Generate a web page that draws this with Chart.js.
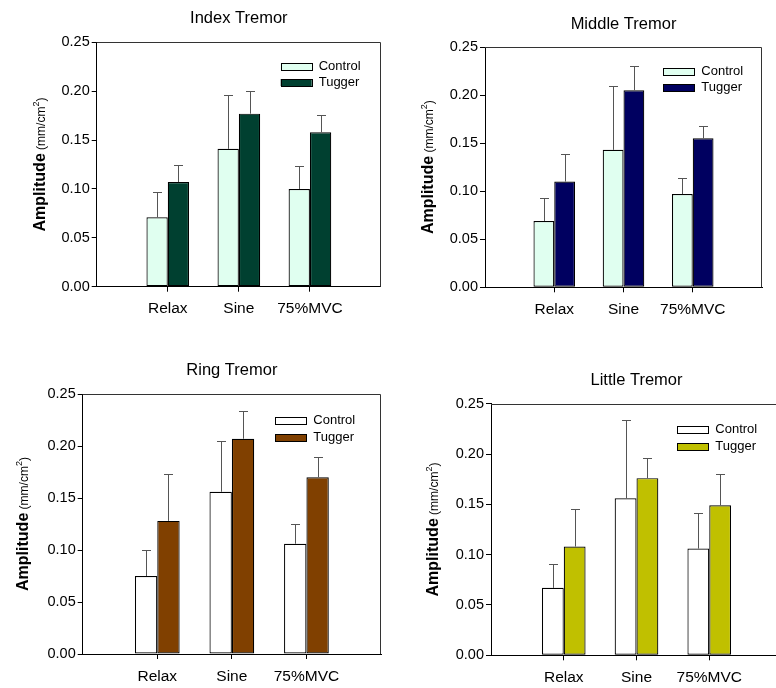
<!DOCTYPE html>
<html><head><meta charset="utf-8">
<script src="https://cdn.jsdelivr.net/npm/chart.js@4.4.1/dist/chart.umd.min.js"></script>
<style>
html,body{margin:0;padding:0;background:#fff;overflow:hidden;width:776px;height:688px;position:relative;}
canvas{position:absolute;left:0;top:0;}
</style></head><body>
<canvas id="c0" width="800" height="688"></canvas>
<canvas id="c1" width="800" height="688"></canvas>
<canvas id="c2" width="800" height="688"></canvas>
<canvas id="c3" width="800" height="688"></canvas>
<script>
// ---- data ----
const categories = ['Relax', 'Sine', '75%MVC'];
const seriesNames = ['Control', 'Tugger'];
const panelTitles = ['Index Tremor', 'Middle Tremor', 'Ring Tremor', 'Little Tremor'];
const yTickValues = [0, 0.05, 0.10, 0.15, 0.20, 0.25];

const indexControl = [0.071, 0.141, 0.100];
const indexControlErr = [0.026, 0.055, 0.023];
const indexTugger = [0.107, 0.177, 0.158];
const indexTuggerErr = [0.018, 0.023, 0.018];

const middleControl = [0.069, 0.143, 0.097];
const middleControlErr = [0.024, 0.066, 0.017];
const middleTugger = [0.110, 0.205, 0.155];
const middleTuggerErr = [0.029, 0.025, 0.013];

const ringControl = [0.075, 0.156, 0.106];
const ringControlErr = [0.025, 0.049, 0.019];
const ringTugger = [0.128, 0.207, 0.170];
const ringTuggerErr = [0.045, 0.027, 0.019];

const littleControl = [0.067, 0.156, 0.106];
const littleControlErr = [0.024, 0.078, 0.035];
const littleTugger = [0.108, 0.176, 0.149];
const littleTuggerErr = [0.037, 0.020, 0.031];

// ---- styles / layout ----
const FONT = '"Liberation Sans", Arial, Helvetica, sans-serif';
const panels = [
  {title: panelTitles[0], control: indexControl, cErr: indexControlErr, tugger: indexTugger, tErr: indexTuggerErr,
   cColor: '#e0fff0', tColor: '#004030',
   box: {left: 96.7, right: 381, top: 42.3, bottom: 286.7}, titleDy: 24, yTitleDx: 51.7, legDx: 100.3, legRow1: 24.4, legGap: 16},
  {title: panelTitles[1], control: middleControl, cErr: middleControlErr, tugger: middleTugger, tErr: middleTuggerErr,
   cColor: '#e0fff0', tColor: '#000060',
   box: {left: 485, right: 762, top: 47, bottom: 287.3}, titleDy: 22.7, yTitleDx: 51.7, legDx: 98.7, legRow1: 24, legGap: 16.3},
  {title: panelTitles[2], control: ringControl, cErr: ringControlErr, tugger: ringTugger, tErr: ringTuggerErr,
   cColor: '#ffffff', tColor: '#804000',
   box: {left: 82.7, right: 381, top: 394, bottom: 654}, titleDy: 23.3, yTitleDx: 54.7, legDx: 105.7, legRow1: 26, legGap: 17.3},
  {title: panelTitles[3], control: littleControl, cErr: littleControlErr, tugger: littleTugger, tErr: littleTuggerErr,
   cColor: '#ffffff', tColor: '#c0c000',
   box: {left: 491, right: 782, top: 403.7, bottom: 655.3}, titleDy: 23.7, yTitleDx: 52.7, legDx: 104.7, legRow1: 25.3, legGap: 17.3}
];

const CANVAS_W = 800, CANVAS_H = 688, Y_AXIS_W = 50, X_AXIS_H = 30;

const pad = arr => [null, ...arr, null];

const decor = {
  id: 'decor',
  afterDraw(chart, args, o) {
    const ctx = chart.ctx, a = chart.chartArea, ys = chart.scales.y;
    ctx.save();
    // frame top + right
    ctx.strokeStyle = '#333'; ctx.lineWidth = 1;
    ctx.beginPath();
    const t = Math.round(a.top) + 0.5, r = Math.round(a.right) - 0.5;
    ctx.moveTo(a.left, t); ctx.lineTo(r, t);
    ctx.moveTo(r, t); ctx.lineTo(r, a.bottom);
    ctx.stroke();
    // error bars
    ctx.strokeStyle = '#555';
    chart.data.datasets.forEach((ds, i) => {
      const meta = chart.getDatasetMeta(i);
      meta.data.forEach((el, j) => {
        const v = ds.data[j];
        if (v === null || v === undefined) return;
        const e = ds.errors[j];
        const x = Math.round(el.x) + 0.5;
        const yb = el.y, ye = Math.round(ys.getPixelForValue(v + e)) + 0.5;
        ctx.beginPath();
        ctx.moveTo(x, yb); ctx.lineTo(x, ye);
        ctx.moveTo(x - 4.5, ye); ctx.lineTo(x + 4.5, ye);
        ctx.stroke();
      });
    });
    // title
    ctx.fillStyle = '#000';
    ctx.font = '16.5px ' + FONT;
    ctx.textAlign = 'center'; ctx.textBaseline = 'middle';
    ctx.fillText(o.title, (a.left + a.right) / 2, a.top - o.titleDy);
    // legend
    ctx.font = '13px ' + FONT;
    ctx.textAlign = 'left';
    chart.data.datasets.forEach((ds, i) => {
      const bx = a.right - o.legDx, cy = a.top + o.legRow1 + i * o.legGap;
      ctx.fillStyle = ds.backgroundColor;
      ctx.fillRect(bx, Math.round(cy - 3.5), 31, 7);
      ctx.strokeStyle = '#000';
      ctx.strokeRect(Math.round(bx) + 0.5, Math.round(cy - 3.5) + 0.5, 31, 7);
      ctx.fillStyle = '#000';
      ctx.fillText(ds.label, bx + 38, cy);
    });
    // y axis title
    const p1 = 'Amplitude', p2 = ' (mm/cm', p3 = '2', p4 = ')';
    const f1 = 'bold 16px ' + FONT, f2 = '12px ' + FONT, f3 = '9px ' + FONT;
    ctx.font = f1; const w1 = ctx.measureText(p1).width;
    ctx.font = f2; const w2 = ctx.measureText(p2).width, w4 = ctx.measureText(p4).width;
    ctx.font = f3; const w3 = ctx.measureText(p3).width;
    const total = w1 + w2 + w3 + w4;
    ctx.translate(a.left - o.yTitleDx, (a.top + a.bottom) / 2);
    ctx.rotate(-Math.PI / 2);
    ctx.textBaseline = 'alphabetic'; ctx.textAlign = 'left';
    let x = -total / 2;
    ctx.font = f1; ctx.fillText(p1, x, 0); x += w1;
    ctx.font = f2; ctx.fillText(p2, x, 0); x += w2;
    ctx.font = f3; ctx.fillText(p3, x, -6); x += w3;
    ctx.font = f2; ctx.fillText(p4, x, 0);
    ctx.restore();
  }
};

panels.forEach((p, k) => {
  const b = p.box;
  const labels = ['', ...categories, ''];
  new Chart(document.getElementById('c' + k), {
    type: 'bar',
    data: {
      labels: labels,
      datasets: [
        {label: seriesNames[0], data: pad(p.control), errors: pad(p.cErr), backgroundColor: p.cColor,
         borderColor: '#000', borderWidth: 1.2, borderSkipped: false},
        {label: seriesNames[1], data: pad(p.tugger), errors: pad(p.tErr), backgroundColor: p.tColor,
         borderColor: '#000', borderWidth: 1.2, borderSkipped: false}
      ]
    },
    options: {
      responsive: false, animation: false, devicePixelRatio: 1,
      events: [],
      categoryPercentage: 0.6, barPercentage: 1.0,
      layout: {padding: {left: b.left - Y_AXIS_W, right: CANVAS_W - b.right, top: b.top, bottom: CANVAS_H - b.bottom - X_AXIS_H}},
      plugins: {legend: {display: false}, tooltip: {enabled: false},
        decor: {title: p.title, titleDy: p.titleDy, yTitleDx: p.yTitleDx, legDx: p.legDx, legRow1: p.legRow1, legGap: p.legGap}},
      scales: {
        x: {
          type: 'category', offset: false,
          afterFit: s => { s.height = X_AXIS_H; },
          grid: {offset: false, drawOnChartArea: false, drawTicks: true, tickLength: 5,
                 color: c => (c.index === 0 || c.index === labels.length - 1) ? 'rgba(0,0,0,0)' : '#000'},
          border: {display: true, color: '#000', width: 1},
          ticks: {autoSkip: false, maxRotation: 0, padding: 8, color: '#000', font: {family: FONT, size: 15.5}}
        },
        y: {
          min: 0, max: 0.25,
          afterFit: s => { s.width = Y_AXIS_W; },
          afterBuildTicks: s => { s.ticks = yTickValues.map(v => ({value: v})); },
          grid: {drawOnChartArea: false, drawTicks: true, tickLength: 5, color: '#000'},
          border: {display: true, color: '#000', width: 1},
          ticks: {padding: 2, color: '#000', font: {family: FONT, size: 14.5}, callback: v => Number(v).toFixed(2)}
        }
      }
    },
    plugins: [decor]
  });
});
</script>
</body></html>
